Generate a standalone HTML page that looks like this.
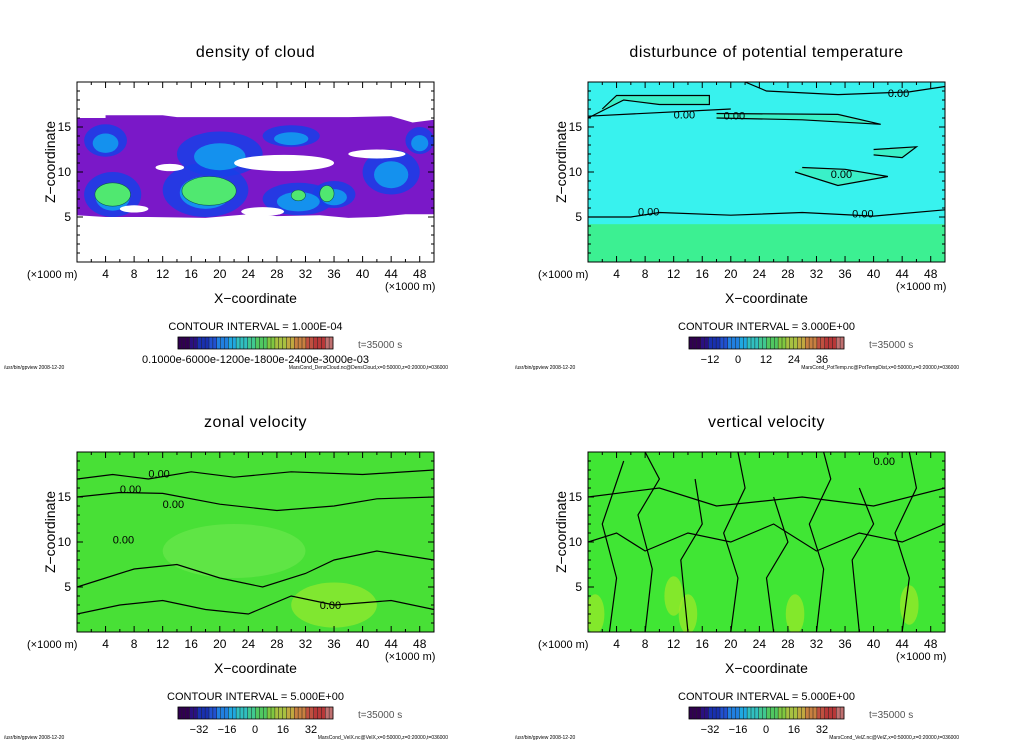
<!DOCTYPE html>
<html><head><meta charset="utf-8"><style>
body{margin:0;background:#fff;}
svg{display:block;font-family:"Liberation Sans",sans-serif;}
</style></head><body>
<svg id="s" width="1024" height="740" viewBox="0 0 1024 740" xmlns="http://www.w3.org/2000/svg"></svg>
<script>
const xTicks=[4,8,12,16,20,24,28,32,36,40,44,48];
const zTicks=[5,10,15];
const titles=["density of cloud","disturbunce of potential temperature","zonal velocity","vertical velocity"];
const intervals=["1.000E-04","3.000E+00","5.000E+00","5.000E+00"];
const cbLabels=[["0.1000e-6000e-1200e-1800e-2400e-3000e-03"],["-12","0","12","24","36"],["-32","-16","0","16","32"],["-32","-16","0","16","32"]];
const files=["MarsCond_DensCloud.nc@DensCloud,x=0:50000,z=0:20000,t=036000","MarsCond_PotTemp.nc@PotTempDist,x=0:50000,z=0:20000,t=036000","MarsCond_VelX.nc@VelX,x=0:50000,z=0:20000,t=036000","MarsCond_VelZ.nc@VelZ,x=0:50000,z=0:20000,t=036000"];
// cloud outline [x,z]
const cloudTop=[[0,16],[4,16],[4,16.3],[12,16.3],[14,16.1],[38,16.1],[44,16.2],[47,15.5],[50,15.8]];
const cloudBottom=[[50,5.3],[46,5.3],[42,5.0],[38,4.9],[34,5.2],[28,5.1],[24,5.3],[18,4.9],[10,5.0],[4,5.0],[0,5.2]];
// cloud blobs: [x, z, rx, rz]
const cloudBlue=[[4,13.5,3,1.8],[5,7.5,4,2.5],[18,8,6,3],[20,12,6,2.5],[31,7,5,1.8],[36,7.5,3,1.5],[44,10,4,2.5],[48,13.5,2,1.5],[30,14,4,1.2]];
const cloudGreen=[[5,7.5,2.5,1.3],[18.5,7.9,3.8,1.6],[31,7.4,1,0.6],[35,7.6,1,0.9]];
const cloudHoles=[[29,11,7,0.9],[42,12,4,0.5],[13,10.5,2,0.4],[26,5.6,3,0.5],[8,5.9,2,0.4]];
// zonal velocity contour lines: arrays of [x,z]
const uLine1=[[0,17],[5,17.5],[10,17],[16,17.8],[22,17.2],[30,17.8],[40,17.5],[50,18]];
const uLine2=[[0,15],[6,15.5],[12,15.4],[20,14.2],[28,13.5],[36,14],[42,14.8],[50,15]];
const uLine3=[[0,5],[4,6],[8,7],[14,7.5],[20,6],[26,5],[32,6.5],[36,8],[42,9],[50,8]];
const uLine4=[[0,2],[6,3],[12,3.5],[18,2.5],[24,2],[30,4],[36,3],[44,3.5],[50,2.5]];
const wLines=[[[3,0],[4,6],[2,12],[5,19]],[[8,0],[9,7],[7,13],[10,17],[8,20]],[[14,0],[13,8],[16,12],[15,17]],[[20,0],[21,6],[19,11],[22,16],[21,20]],[[26,0],[25,6],[28,10],[26,15]],[[32,0],[33,7],[31,12],[34,17],[33,20]],[[38,0],[37,8],[40,12],[38,16]],[[44,0],[45,6],[43,11],[46,16],[45,20]],[[0,15],[10,16],[18,14],[30,15],[40,14],[50,16]],[[0,10],[4,11],[8,9],[14,11],[20,10],[26,12],[32,9],[38,11],[44,10],[50,12]]];

const S=document.getElementById('s');
const NS="http://www.w3.org/2000/svg";
function el(t,a,txt){const e=document.createElementNS(NS,t);for(const k in a)e.setAttribute(k,a[k]);if(txt!==undefined)e.textContent=txt;S.appendChild(e);return e;}
const W=357,H=180;
function panel(i,px,py){
  const X=x=>px+x/50*W, Z=z=>py+H-z/20*H;
  const rx=r=>r/50*W, rz=r=>r/20*H;
  const clip='c'+i;
  const cp=document.createElementNS(NS,'clipPath');cp.setAttribute('id',clip);
  const r=document.createElementNS(NS,'rect');r.setAttribute('x',px);r.setAttribute('y',py);r.setAttribute('width',W);r.setAttribute('height',H);cp.appendChild(r);S.appendChild(cp);
  const g=el('g',{'clip-path':'url(#'+clip+')'});
  
  
  function add(t,a){const e=document.createElementNS(NS,t);for(const k in a)e.setAttribute(k,a[k]);g.appendChild(e);return e;}
  const pl=pts=>pts.map(p=>X(p[0])+','+Z(p[1])).join(' ');
  if(i===0){
    add('rect',{x:px,y:py,width:W,height:H,fill:'#fff'});
    add('polygon',{points:pl(cloudTop.concat(cloudBottom)),fill:'#7a18c8'});
    cloudBlue.forEach(b=>add('ellipse',{cx:X(b[0]),cy:Z(b[1]),rx:rx(b[2]),ry:rz(b[3]),fill:'#1840e8',opacity:0.85}));
    cloudBlue.forEach(b=>add('ellipse',{cx:X(b[0]),cy:Z(b[1]-0.3),rx:rx(b[2])*0.6,ry:rz(b[3])*0.6,fill:'#10a8f0',opacity:0.8}));
    cloudGreen.forEach(b=>add('ellipse',{cx:X(b[0]),cy:Z(b[1]),rx:rx(b[2]),ry:rz(b[3]),fill:'#50e870',stroke:'#155','stroke-width':0.6}));
    cloudHoles.forEach(b=>add('ellipse',{cx:X(b[0]),cy:Z(b[1]),rx:rx(b[2]),ry:rz(b[3]),fill:'#fff'}));
  } else if(i===1){
    add('rect',{x:px,y:py,width:W,height:H,fill:'#38f2ee'});
    add('rect',{x:px,y:Z(4.2),width:W,height:Z(0)-Z(4.2),fill:'#3cf092'});
    add('polyline',{points:pl([[0,5],[6,5],[10,5.5],[20,5.2],[30,5.5],[40,5.1],[50,5.8]]),fill:'none',stroke:'#000','stroke-width':1.2});
    add('polyline',{points:pl([[0,16],[5,18],[10,17.5],[17,17.5],[17,18.5],[4,18.5],[2,17]]),fill:'#3af0c8',stroke:'#000','stroke-width':1.2});
    add('polyline',{points:pl([[0,16.2],[20,17]]),fill:'none',stroke:'#000','stroke-width':1.2});
    add('polyline',{points:pl([[18,16],[30,15.8],[41,15.3],[35,16.4],[18,16.5]]),fill:'#3af0c8',stroke:'#000','stroke-width':1.2});
    add('polyline',{points:pl([[22,20],[25,19],[35,18.6],[45,18.9],[50,19.5]]),fill:'none',stroke:'#000','stroke-width':1.2});
    add('polyline',{points:pl([[29,10],[35,8.5],[42,9.5],[36,10.3],[30,10.5]]),fill:'#3af0c8',stroke:'#000','stroke-width':1.2});
    add('polyline',{points:pl([[40,12.5],[46,12.8],[44,11.6],[40,11.9]]),fill:'#3af0c8',stroke:'#000','stroke-width':1.2});
  } else if(i===2){
    add('rect',{x:px,y:py,width:W,height:H,fill:'#48e036'});
    add('ellipse',{cx:X(36),cy:Z(3),rx:rx(6),ry:rz(2.5),fill:'#8ee830',opacity:0.8});
    add('ellipse',{cx:X(22),cy:Z(9),rx:rx(10),ry:rz(3),fill:'#70e850',opacity:0.6});
    [uLine1,uLine2,uLine3,uLine4].forEach(l=>add('polyline',{points:pl(l),fill:'none',stroke:'#000','stroke-width':1.2}));
  } else {
    add('rect',{x:px,y:py,width:W,height:H,fill:'#40e634'});
    [[1,2],[14,2],[29,2],[45,3],[12,4]].forEach(c=>add('ellipse',{cx:X(c[0]),cy:Z(c[1]),rx:rx(1.3),ry:rz(2.2),fill:'#a0e828',opacity:0.7}));
    wLines.forEach(l=>add('polyline',{points:pl(l),fill:'none',stroke:'#000','stroke-width':1.2}));
  }
  if(i>0){
    const labs=i===1?[[12,16.4],[19,16.3],[42,18.8],[34,9.8],[7,5.6],[37,5.4]]:i===2?[[10,17.6],[6,15.9],[12,14.2],[5,10.3],[34,3]]:[[40,19]];
    labs.forEach(l=>{const t=add('text',{x:X(l[0]),y:Z(l[1])+4,'font-size':11,fill:'#000'});t.textContent='0.00';});
  }
  const fr=el('rect',{x:px,y:py,width:W,height:H,fill:'none',stroke:'#000','stroke-width':1});
  
  for(let x=0;x<=50;x+=2){const len=x%4===0?6:3;
    el('line',{x1:X(x),y1:py+H,x2:X(x),y2:py+H-len,stroke:'#000'});el('line',{x1:X(x),y1:py,x2:X(x),y2:py+len,stroke:'#000'});}
  for(let z=0;z<=20;z++){const len=z%5===0?6:3;
    el('line',{x1:px,y1:Z(z),x2:px+len,y2:Z(z),stroke:'#000'});el('line',{x1:px+W,y1:Z(z),x2:px+W-len,y2:Z(z),stroke:'#000'});}
  xTicks.forEach(x=>{const t=el('text',{x:X(x),y:py+H+16,'font-size':12,'text-anchor':'middle'},x);
    });
  zTicks.forEach(z=>{const t=el('text',{x:px-6,y:Z(z)+4,'font-size':12,'text-anchor':'end'},z);
    });
  const cx=px+W/2;
  const tt=el('text',{x:cx,y:py-25,'font-size':16,'text-anchor':'middle','letter-spacing':'0.5'},titles[i]);
  
  const yt=el('text',{x:0,y:0,'font-size':14,'text-anchor':'middle',transform:`translate(${px-22},${py+H/2-10}) rotate(-90)`},'Z−coordinate');
  
  el('text',{x:px-50,y:py+H+16,'font-size':11},'(×1000 m)');
  el('text',{x:px+W-49,y:py+H+28,'font-size':11},'(×1000 m)');
  const xt=el('text',{x:cx,y:py+H+41,'font-size':14,'text-anchor':'middle'},'X−coordinate');
  
  el('text',{x:cx,y:py+H+68,'font-size':11,'text-anchor':'middle'},'CONTOUR INTERVAL = '+intervals[i]);
  const bx=px+101,by=py+H+75,bw=155,bh=12;
  const cols=['#300050','#2a1080','#1830b0','#2050d0','#2080e0','#20a8e0','#30c0c0','#40c890','#50c860','#80c840','#a8c040','#c0a840','#c88040','#c05040','#b83838','#c07070'];
  const cb=el('g',{});
  const n=40;for(let k=0;k<n;k++){const c=cols[Math.floor(k/n*cols.length)];
    const rr=document.createElementNS(NS,'rect');rr.setAttribute('x',bx+k*bw/n);rr.setAttribute('y',by);rr.setAttribute('width',bw/n+0.3);rr.setAttribute('height',bh);rr.setAttribute('fill',c);cb.appendChild(rr);
    const l=document.createElementNS(NS,'line');l.setAttribute('x1',bx+k*bw/n);l.setAttribute('x2',bx+k*bw/n);l.setAttribute('y1',by);l.setAttribute('y2',by+bh);l.setAttribute('stroke','#222');l.setAttribute('stroke-width',0.5);cb.appendChild(l);}
  el('rect',{x:bx,y:by,width:bw,height:bh,fill:'none',stroke:'#000','stroke-width':0.8});
  const labs=cbLabels[i];
  if(labs.length===1) el('text',{x:bx+bw/2,y:by+26,'font-size':11,'text-anchor':'middle'},labs[0]);
  else labs.forEach((l,k)=>el('text',{x:bx+21+k*28,y:by+26,'font-size':11,'text-anchor':'middle'},l.replace('-','−')));
  el('text',{x:px+W-76,y:by+11,'font-size':10,fill:'#555'},'t=35000 s');
  el('text',{x:px-73,y:py+H+107,'font-size':5},'/usr/bin/gpview   2008-12-20');
  el('text',{x:px+W+14,y:py+H+107,'font-size':5,'text-anchor':'end'},files[i]);
}
panel(0,77,82);panel(1,588,82);panel(2,77,452);panel(3,588,452);
</script>
</body></html>
